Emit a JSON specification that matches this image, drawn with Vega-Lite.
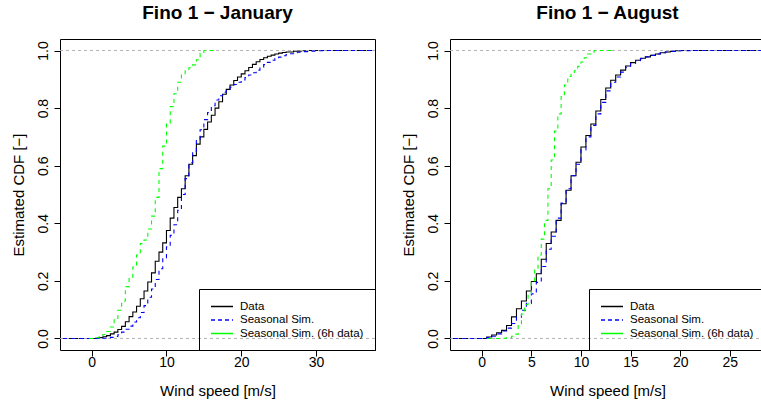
{
  "$schema": "https://vega.github.io/schema/vega-lite/v6.json",
  "padding": {"left": 10, "top": 3, "right": 0, "bottom": 0},
  "background": "white",
  "spacing": 24,
  "config": {
    "font": "Liberation Sans",
    "view": {"stroke": "black", "strokeWidth": 1},
    "axis": {"grid": false, "domain": false, "tickColor": "black", "tickSize": 6, "tickWidth": 1, "labelFont": "Liberation Sans", "labelFontSize": 14, "labelColor": "black", "titleFont": "Liberation Sans", "titleFontSize": 15, "titleFontWeight": "normal", "titleColor": "black"},
    "axisX": {"labelPadding": -1, "labelBaseline": "top", "titlePadding": 14},
    "axisY": {"labelAngle": 270, "labelAlign": "center", "labelBaseline": "bottom", "labelPadding": 4, "titlePadding": 10, "format": ".1f"},
    "title": {"font": "Liberation Sans", "fontSize": 19, "fontWeight": "bold", "color": "black", "anchor": "middle", "baseline": "alphabetic", "offset": 16.5},
    "legend": {"orient": "bottom-right", "offset": 0, "zindex": 2, "title": null, "strokeColor": "black", "strokeWidth": 1, "cornerRadius": 0, "padding": 11, "labelFont": "Liberation Sans", "labelFontSize": 11.5, "labelColor": "black", "labelLimit": 300, "symbolType": "M-2,0L2,0", "symbolSize": 121, "symbolStrokeWidth": 1.3, "symbolOffset": 5.5, "labelOffset": 11.5, "rowPadding": 1.5}
  },
  "datasets": {
    "jan": [
      {"s":"Data","v":-6,"F":0},{"s":"Data","v":0,"F":0},{"s":"Data","v":0.5,"F":0.001},{"s":"Data","v":1,"F":0.003},{"s":"Data","v":1.5,"F":0.006},{"s":"Data","v":2,"F":0.010},{"s":"Data","v":2.5,"F":0.016},{"s":"Data","v":3,"F":0.022},{"s":"Data","v":3.5,"F":0.031},{"s":"Data","v":4,"F":0.042},{"s":"Data","v":4.5,"F":0.058},{"s":"Data","v":5,"F":0.076},{"s":"Data","v":5.5,"F":0.092},{"s":"Data","v":6,"F":0.112},{"s":"Data","v":6.5,"F":0.138},{"s":"Data","v":7,"F":0.165},{"s":"Data","v":7.5,"F":0.196},{"s":"Data","v":8,"F":0.228},{"s":"Data","v":8.5,"F":0.268},{"s":"Data","v":9,"F":0.300},{"s":"Data","v":9.5,"F":0.332},{"s":"Data","v":10,"F":0.375},{"s":"Data","v":10.5,"F":0.418},{"s":"Data","v":11,"F":0.455},{"s":"Data","v":11.5,"F":0.490},{"s":"Data","v":12,"F":0.520},{"s":"Data","v":12.5,"F":0.565},{"s":"Data","v":13,"F":0.605},{"s":"Data","v":13.5,"F":0.635},{"s":"Data","v":14,"F":0.675},{"s":"Data","v":14.5,"F":0.700},{"s":"Data","v":15,"F":0.726},{"s":"Data","v":15.5,"F":0.752},{"s":"Data","v":16,"F":0.775},{"s":"Data","v":16.5,"F":0.800},{"s":"Data","v":17,"F":0.822},{"s":"Data","v":17.5,"F":0.848},{"s":"Data","v":18,"F":0.865},{"s":"Data","v":18.5,"F":0.880},{"s":"Data","v":19,"F":0.896},{"s":"Data","v":19.5,"F":0.908},{"s":"Data","v":20,"F":0.919},{"s":"Data","v":20.5,"F":0.930},{"s":"Data","v":21,"F":0.941},{"s":"Data","v":21.5,"F":0.952},{"s":"Data","v":22,"F":0.961},{"s":"Data","v":22.5,"F":0.969},{"s":"Data","v":23,"F":0.975},{"s":"Data","v":23.5,"F":0.980},{"s":"Data","v":24,"F":0.984},{"s":"Data","v":24.5,"F":0.988},{"s":"Data","v":25,"F":0.991},{"s":"Data","v":25.5,"F":0.993},{"s":"Data","v":26,"F":0.995},{"s":"Data","v":27,"F":0.998},{"s":"Data","v":28,"F":0.999},{"s":"Data","v":29,"F":1.0},{"s":"Data","v":40,"F":1.0},
      {"s":"Seasonal Sim.","v":-6,"F":0},{"s":"Seasonal Sim.","v":0,"F":0},{"s":"Seasonal Sim.","v":1,"F":0.001},{"s":"Seasonal Sim.","v":2,"F":0.002},{"s":"Seasonal Sim.","v":2.5,"F":0.004},{"s":"Seasonal Sim.","v":3,"F":0.007},{"s":"Seasonal Sim.","v":3.5,"F":0.013},{"s":"Seasonal Sim.","v":4,"F":0.022},{"s":"Seasonal Sim.","v":4.5,"F":0.032},{"s":"Seasonal Sim.","v":5,"F":0.043},{"s":"Seasonal Sim.","v":5.5,"F":0.057},{"s":"Seasonal Sim.","v":6,"F":0.072},{"s":"Seasonal Sim.","v":6.5,"F":0.090},{"s":"Seasonal Sim.","v":7,"F":0.114},{"s":"Seasonal Sim.","v":7.5,"F":0.143},{"s":"Seasonal Sim.","v":8,"F":0.172},{"s":"Seasonal Sim.","v":8.5,"F":0.205},{"s":"Seasonal Sim.","v":9,"F":0.242},{"s":"Seasonal Sim.","v":9.5,"F":0.280},{"s":"Seasonal Sim.","v":10,"F":0.318},{"s":"Seasonal Sim.","v":10.5,"F":0.358},{"s":"Seasonal Sim.","v":11,"F":0.395},{"s":"Seasonal Sim.","v":11.5,"F":0.445},{"s":"Seasonal Sim.","v":12,"F":0.500},{"s":"Seasonal Sim.","v":12.5,"F":0.555},{"s":"Seasonal Sim.","v":13,"F":0.610},{"s":"Seasonal Sim.","v":13.5,"F":0.650},{"s":"Seasonal Sim.","v":14,"F":0.690},{"s":"Seasonal Sim.","v":14.5,"F":0.725},{"s":"Seasonal Sim.","v":15,"F":0.760},{"s":"Seasonal Sim.","v":15.5,"F":0.785},{"s":"Seasonal Sim.","v":16,"F":0.808},{"s":"Seasonal Sim.","v":16.5,"F":0.828},{"s":"Seasonal Sim.","v":17,"F":0.843},{"s":"Seasonal Sim.","v":17.5,"F":0.855},{"s":"Seasonal Sim.","v":18,"F":0.865},{"s":"Seasonal Sim.","v":18.5,"F":0.873},{"s":"Seasonal Sim.","v":19,"F":0.882},{"s":"Seasonal Sim.","v":19.5,"F":0.890},{"s":"Seasonal Sim.","v":20,"F":0.898},{"s":"Seasonal Sim.","v":20.5,"F":0.906},{"s":"Seasonal Sim.","v":21,"F":0.915},{"s":"Seasonal Sim.","v":21.5,"F":0.923},{"s":"Seasonal Sim.","v":22,"F":0.932},{"s":"Seasonal Sim.","v":22.5,"F":0.942},{"s":"Seasonal Sim.","v":23,"F":0.951},{"s":"Seasonal Sim.","v":23.5,"F":0.959},{"s":"Seasonal Sim.","v":24,"F":0.966},{"s":"Seasonal Sim.","v":24.5,"F":0.972},{"s":"Seasonal Sim.","v":25,"F":0.977},{"s":"Seasonal Sim.","v":25.5,"F":0.982},{"s":"Seasonal Sim.","v":26,"F":0.986},{"s":"Seasonal Sim.","v":26.5,"F":0.989},{"s":"Seasonal Sim.","v":27,"F":0.992},{"s":"Seasonal Sim.","v":27.5,"F":0.994},{"s":"Seasonal Sim.","v":28,"F":0.996},{"s":"Seasonal Sim.","v":29,"F":0.998},{"s":"Seasonal Sim.","v":30,"F":0.999},{"s":"Seasonal Sim.","v":31.5,"F":1.0},{"s":"Seasonal Sim.","v":40,"F":1.0},
      {"s":"Seasonal Sim. (6h data)","v":-0.3,"F":0},{"s":"Seasonal Sim. (6h data)","v":0.5,"F":0.003},{"s":"Seasonal Sim. (6h data)","v":1,"F":0.007},{"s":"Seasonal Sim. (6h data)","v":1.5,"F":0.014},{"s":"Seasonal Sim. (6h data)","v":2,"F":0.024},{"s":"Seasonal Sim. (6h data)","v":2.5,"F":0.040},{"s":"Seasonal Sim. (6h data)","v":3,"F":0.065},{"s":"Seasonal Sim. (6h data)","v":3.5,"F":0.098},{"s":"Seasonal Sim. (6h data)","v":4,"F":0.130},{"s":"Seasonal Sim. (6h data)","v":4.5,"F":0.180},{"s":"Seasonal Sim. (6h data)","v":5,"F":0.212},{"s":"Seasonal Sim. (6h data)","v":5.5,"F":0.248},{"s":"Seasonal Sim. (6h data)","v":6,"F":0.290},{"s":"Seasonal Sim. (6h data)","v":6.5,"F":0.330},{"s":"Seasonal Sim. (6h data)","v":7,"F":0.342},{"s":"Seasonal Sim. (6h data)","v":7.5,"F":0.380},{"s":"Seasonal Sim. (6h data)","v":8,"F":0.425},{"s":"Seasonal Sim. (6h data)","v":8.5,"F":0.490},{"s":"Seasonal Sim. (6h data)","v":9,"F":0.590},{"s":"Seasonal Sim. (6h data)","v":9.5,"F":0.668},{"s":"Seasonal Sim. (6h data)","v":10,"F":0.748},{"s":"Seasonal Sim. (6h data)","v":10.5,"F":0.805},{"s":"Seasonal Sim. (6h data)","v":11,"F":0.850},{"s":"Seasonal Sim. (6h data)","v":11.5,"F":0.890},{"s":"Seasonal Sim. (6h data)","v":12,"F":0.915},{"s":"Seasonal Sim. (6h data)","v":12.5,"F":0.930},{"s":"Seasonal Sim. (6h data)","v":13,"F":0.940},{"s":"Seasonal Sim. (6h data)","v":13.5,"F":0.950},{"s":"Seasonal Sim. (6h data)","v":14,"F":0.968},{"s":"Seasonal Sim. (6h data)","v":14.5,"F":0.990},{"s":"Seasonal Sim. (6h data)","v":15,"F":1.0},{"s":"Seasonal Sim. (6h data)","v":16.5,"F":1.0}
    ],
    "aug": [
      {"s":"Data","v":-6,"F":0},{"s":"Data","v":0,"F":0},{"s":"Data","v":0.5,"F":0.005},{"s":"Data","v":1,"F":0.012},{"s":"Data","v":1.5,"F":0.020},{"s":"Data","v":2,"F":0.028},{"s":"Data","v":2.5,"F":0.045},{"s":"Data","v":3,"F":0.075},{"s":"Data","v":3.5,"F":0.103},{"s":"Data","v":4,"F":0.130},{"s":"Data","v":4.5,"F":0.165},{"s":"Data","v":5,"F":0.198},{"s":"Data","v":5.5,"F":0.225},{"s":"Data","v":6,"F":0.275},{"s":"Data","v":6.5,"F":0.330},{"s":"Data","v":7,"F":0.370},{"s":"Data","v":7.5,"F":0.410},{"s":"Data","v":8,"F":0.468},{"s":"Data","v":8.5,"F":0.515},{"s":"Data","v":9,"F":0.565},{"s":"Data","v":9.5,"F":0.612},{"s":"Data","v":10,"F":0.665},{"s":"Data","v":10.5,"F":0.705},{"s":"Data","v":11,"F":0.745},{"s":"Data","v":11.5,"F":0.790},{"s":"Data","v":12,"F":0.830},{"s":"Data","v":12.5,"F":0.870},{"s":"Data","v":13,"F":0.897},{"s":"Data","v":13.5,"F":0.915},{"s":"Data","v":14,"F":0.932},{"s":"Data","v":14.5,"F":0.946},{"s":"Data","v":15,"F":0.958},{"s":"Data","v":15.5,"F":0.966},{"s":"Data","v":16,"F":0.973},{"s":"Data","v":16.5,"F":0.978},{"s":"Data","v":17,"F":0.983},{"s":"Data","v":17.5,"F":0.988},{"s":"Data","v":18,"F":0.992},{"s":"Data","v":18.5,"F":0.995},{"s":"Data","v":19,"F":0.997},{"s":"Data","v":19.5,"F":0.999},{"s":"Data","v":20,"F":1.0},{"s":"Data","v":32,"F":1.0},
      {"s":"Seasonal Sim.","v":-6,"F":0},{"s":"Seasonal Sim.","v":0,"F":0},{"s":"Seasonal Sim.","v":0.5,"F":0.003},{"s":"Seasonal Sim.","v":1,"F":0.008},{"s":"Seasonal Sim.","v":1.5,"F":0.016},{"s":"Seasonal Sim.","v":2,"F":0.026},{"s":"Seasonal Sim.","v":2.5,"F":0.036},{"s":"Seasonal Sim.","v":3,"F":0.052},{"s":"Seasonal Sim.","v":3.5,"F":0.074},{"s":"Seasonal Sim.","v":4,"F":0.098},{"s":"Seasonal Sim.","v":4.5,"F":0.122},{"s":"Seasonal Sim.","v":5,"F":0.155},{"s":"Seasonal Sim.","v":5.5,"F":0.195},{"s":"Seasonal Sim.","v":6,"F":0.250},{"s":"Seasonal Sim.","v":6.5,"F":0.310},{"s":"Seasonal Sim.","v":7,"F":0.355},{"s":"Seasonal Sim.","v":7.5,"F":0.418},{"s":"Seasonal Sim.","v":8,"F":0.470},{"s":"Seasonal Sim.","v":8.5,"F":0.520},{"s":"Seasonal Sim.","v":9,"F":0.565},{"s":"Seasonal Sim.","v":9.5,"F":0.605},{"s":"Seasonal Sim.","v":10,"F":0.655},{"s":"Seasonal Sim.","v":10.5,"F":0.700},{"s":"Seasonal Sim.","v":11,"F":0.740},{"s":"Seasonal Sim.","v":11.5,"F":0.780},{"s":"Seasonal Sim.","v":12,"F":0.820},{"s":"Seasonal Sim.","v":12.5,"F":0.860},{"s":"Seasonal Sim.","v":13,"F":0.890},{"s":"Seasonal Sim.","v":13.5,"F":0.908},{"s":"Seasonal Sim.","v":14,"F":0.925},{"s":"Seasonal Sim.","v":14.5,"F":0.942},{"s":"Seasonal Sim.","v":15,"F":0.955},{"s":"Seasonal Sim.","v":15.5,"F":0.965},{"s":"Seasonal Sim.","v":16,"F":0.972},{"s":"Seasonal Sim.","v":16.5,"F":0.978},{"s":"Seasonal Sim.","v":17,"F":0.983},{"s":"Seasonal Sim.","v":17.5,"F":0.988},{"s":"Seasonal Sim.","v":18,"F":0.992},{"s":"Seasonal Sim.","v":18.5,"F":0.995},{"s":"Seasonal Sim.","v":19,"F":0.997},{"s":"Seasonal Sim.","v":19.5,"F":0.999},{"s":"Seasonal Sim.","v":21,"F":1.0},{"s":"Seasonal Sim.","v":32,"F":1.0},
      {"s":"Seasonal Sim. (6h data)","v":0.6,"F":0},{"s":"Seasonal Sim. (6h data)","v":2,"F":0.001},{"s":"Seasonal Sim. (6h data)","v":2.5,"F":0.003},{"s":"Seasonal Sim. (6h data)","v":3,"F":0.008},{"s":"Seasonal Sim. (6h data)","v":3.33,"F":0.015},{"s":"Seasonal Sim. (6h data)","v":3.67,"F":0.045},{"s":"Seasonal Sim. (6h data)","v":4,"F":0.085},{"s":"Seasonal Sim. (6h data)","v":4.33,"F":0.118},{"s":"Seasonal Sim. (6h data)","v":4.67,"F":0.152},{"s":"Seasonal Sim. (6h data)","v":5,"F":0.195},{"s":"Seasonal Sim. (6h data)","v":5.33,"F":0.240},{"s":"Seasonal Sim. (6h data)","v":5.67,"F":0.290},{"s":"Seasonal Sim. (6h data)","v":6,"F":0.345},{"s":"Seasonal Sim. (6h data)","v":6.33,"F":0.410},{"s":"Seasonal Sim. (6h data)","v":6.67,"F":0.520},{"s":"Seasonal Sim. (6h data)","v":7,"F":0.620},{"s":"Seasonal Sim. (6h data)","v":7.33,"F":0.720},{"s":"Seasonal Sim. (6h data)","v":7.67,"F":0.780},{"s":"Seasonal Sim. (6h data)","v":8,"F":0.840},{"s":"Seasonal Sim. (6h data)","v":8.33,"F":0.880},{"s":"Seasonal Sim. (6h data)","v":8.67,"F":0.910},{"s":"Seasonal Sim. (6h data)","v":9,"F":0.920},{"s":"Seasonal Sim. (6h data)","v":9.33,"F":0.930},{"s":"Seasonal Sim. (6h data)","v":9.67,"F":0.945},{"s":"Seasonal Sim. (6h data)","v":10,"F":0.960},{"s":"Seasonal Sim. (6h data)","v":10.33,"F":0.975},{"s":"Seasonal Sim. (6h data)","v":10.67,"F":0.988},{"s":"Seasonal Sim. (6h data)","v":11,"F":0.995},{"s":"Seasonal Sim. (6h data)","v":11.33,"F":1.0},{"s":"Seasonal Sim. (6h data)","v":13.3,"F":1.0}
    ],
    "ref01": [{"h": 0}, {"h": 1}]
  },
  "hconcat": [
    {
      "width": 315, "height": 311,
      "title": {"text": "Fino 1 − January"},
      "layer": [
        {
          "data": {"name": "jan"},
          "transform": [{"filter": "datum.s === 'Data'"}],
          "mark": {"type": "line", "interpolate": "step-after", "clip": true, "strokeWidth": 1.1},
          "encoding": {
            "x": {"field": "v", "type": "quantitative", "scale": {"domain": [-4.24, 37.89], "nice": false, "zero": false}, "axis": {"values": [0, 10, 20, 30], "title": "Wind speed [m/s]"}},
            "y": {"field": "F", "type": "quantitative", "scale": {"domain": [-0.04, 1.04], "nice": false, "zero": false}, "axis": {"title": "Estimated CDF [−]", "values": [0, 0.2, 0.4, 0.6, 0.8, 1.0]}},
            "color": {"field": "s", "type": "nominal", "scale": {"domain": ["Data", "Seasonal Sim.", "Seasonal Sim. (6h data)"], "range": ["#000000", "#0000ff", "#00ff00"]}, "legend": {"zindex": 2, "encode": {"symbols": {"update": {"opacity": {"value": 1}, "stroke": {"signal": "datum.label === 'Data' ? '#000000' : (datum.label === 'Seasonal Sim.' ? '#0000ff' : '#00ff00')"}, "strokeDash": {"signal": "datum.label === 'Seasonal Sim.' ? [4, 3] : [1, 0]"}}}}}}
          }
        },
        {
          "data": {"name": "ref01"},
          "mark": {"type": "rule", "color": "#b3b3b3", "strokeDash": [3, 3], "strokeWidth": 1},
          "encoding": {"y": {"field": "h", "type": "quantitative"}}
        },
        {
          "data": {"name": "jan"},
          "transform": [{"filter": "datum.s === 'Seasonal Sim.'"}],
          "mark": {"type": "line", "interpolate": "step-after", "clip": true, "strokeWidth": 1.1, "strokeDash": [4, 4]},
          "encoding": {"x": {"field": "v", "type": "quantitative"}, "y": {"field": "F", "type": "quantitative"}, "color": {"field": "s", "type": "nominal"}}
        },
        {
          "data": {"name": "jan"},
          "transform": [{"filter": "datum.s === 'Seasonal Sim. (6h data)'"}],
          "mark": {"type": "line", "interpolate": "step-after", "clip": true, "strokeWidth": 1.1, "strokeDash": [4, 4]},
          "encoding": {"x": {"field": "v", "type": "quantitative"}, "y": {"field": "F", "type": "quantitative"}, "color": {"field": "s", "type": "nominal"}}
        }
      ]
    },
    {
      "width": 315, "height": 311,
      "title": {"text": "Fino 1 − August"},
      "layer": [
        {
          "data": {"name": "aug"},
          "transform": [{"filter": "datum.s === 'Data'"}],
          "mark": {"type": "line", "interpolate": "step-after", "clip": true, "strokeWidth": 1.1},
          "encoding": {
            "x": {"field": "v", "type": "quantitative", "scale": {"domain": [-3.2, 28.55], "nice": false, "zero": false}, "axis": {"values": [0, 5, 10, 15, 20, 25], "title": "Wind speed [m/s]"}},
            "y": {"field": "F", "type": "quantitative", "scale": {"domain": [-0.04, 1.04], "nice": false, "zero": false}, "axis": {"title": "Estimated CDF [−]", "values": [0, 0.2, 0.4, 0.6, 0.8, 1.0]}},
            "color": {"field": "s", "type": "nominal", "scale": {"domain": ["Data", "Seasonal Sim.", "Seasonal Sim. (6h data)"], "range": ["#000000", "#0000ff", "#00ff00"]}, "legend": {"zindex": 2, "encode": {"symbols": {"update": {"opacity": {"value": 1}, "stroke": {"signal": "datum.label === 'Data' ? '#000000' : (datum.label === 'Seasonal Sim.' ? '#0000ff' : '#00ff00')"}, "strokeDash": {"signal": "datum.label === 'Seasonal Sim.' ? [4, 3] : [1, 0]"}}}}}}
          }
        },
        {
          "data": {"name": "ref01"},
          "mark": {"type": "rule", "color": "#b3b3b3", "strokeDash": [3, 3], "strokeWidth": 1},
          "encoding": {"y": {"field": "h", "type": "quantitative"}}
        },
        {
          "data": {"name": "aug"},
          "transform": [{"filter": "datum.s === 'Seasonal Sim.'"}],
          "mark": {"type": "line", "interpolate": "step-after", "clip": true, "strokeWidth": 1.1, "strokeDash": [4, 4]},
          "encoding": {"x": {"field": "v", "type": "quantitative"}, "y": {"field": "F", "type": "quantitative"}, "color": {"field": "s", "type": "nominal"}}
        },
        {
          "data": {"name": "aug"},
          "transform": [{"filter": "datum.s === 'Seasonal Sim. (6h data)'"}],
          "mark": {"type": "line", "interpolate": "step-after", "clip": true, "strokeWidth": 1.1, "strokeDash": [4, 4]},
          "encoding": {"x": {"field": "v", "type": "quantitative"}, "y": {"field": "F", "type": "quantitative"}, "color": {"field": "s", "type": "nominal"}}
        }
      ]
    }
  ],
  "resolve": {"scale": {"x": "independent", "y": "independent", "color": "independent"}, "legend": {"color": "independent"}}
}
